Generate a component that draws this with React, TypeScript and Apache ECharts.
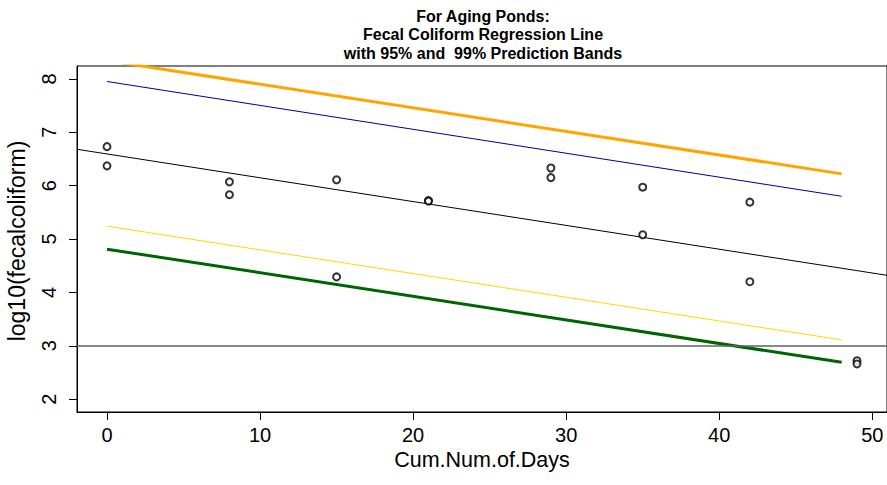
import React, { useEffect, useRef } from "react";
import * as echarts from "echarts";

// Observed data points
const days = [0, 0, 8, 8, 15, 15, 21, 21, 29, 29, 35, 35, 42, 42, 49, 49];
const logFecal = [6.73, 6.37, 6.07, 5.83, 6.11, 4.29, 5.72, 5.71, 6.33, 6.15, 5.97, 5.08, 5.69, 4.2, 2.72, 2.66];

// Regression line (abline across full plot), endpoints
const regX = [-1.96, 50.96];
const regY = [6.68, 4.32];

// Prediction bands, drawn from day 0 to day 48
const bandX = [0, 48];
const upper99 = [8.34, 6.22];
const upper95 = [7.95, 5.8];
const lower95 = [5.24, 3.11];
const lower99 = [4.81, 2.69];

// Reference horizontal line
const refY = 3;

// Axis ticks
const xTicks = [0, 10, 20, 30, 40, 50];
const yTicks = [2, 3, 4, 5, 6, 7, 8];

const FONT = "'Liberation Sans', Arial, Helvetica, sans-serif";

const pair = (xs: number[], ys: number[]) => xs.map((x, i) => [x, ys[i]]);

export default function App() {
  const ref = useRef<HTMLDivElement>(null);
  useEffect(() => {
    if (!ref.current) return;
    const chart = echarts.init(ref.current, undefined, { renderer: "svg" });
    const bandLine = (name: string, ys: number[], color: string, width: number) => ({
      name,
      type: "line",
      data: pair(bandX, ys),
      showSymbol: false,
      symbol: "none",
      clip: true,
      lineStyle: { color, width },
      z: 3,
    });
    chart.setOption({
      animation: false,
      backgroundColor: "#ffffff",
      textStyle: { fontFamily: FONT },
      title: {
        text: "For Aging Ponds:\nFecal Coliform Regression Line\nwith 95% and  99% Prediction Bands",
        left: 483,
        top: 7,
        padding: 0,
        textAlign: "center",
        textStyle: {
          fontFamily: FONT,
          fontSize: 16,
          fontWeight: "bold",
          lineHeight: 18.5,
          color: "#000",
        },
      },
      grid: {
        left: 77,
        top: 66,
        right: -2,
        bottom: 73,
        show: true,
        borderColor: "#000",
        borderWidth: 1,
        backgroundColor: "transparent",
      },
      xAxis: {
        type: "value",
        min: regX[0],
        max: regX[1],
        axisLine: { show: true, onZero: false, lineStyle: { color: "#000", width: 1 } },
        axisTick: { show: true, customValues: xTicks, length: 8, lineStyle: { color: "#000" } },
        axisLabel: {
          customValues: xTicks,
          fontSize: 20,
          color: "#000",
          margin: 13,
          fontFamily: FONT,
        },
        splitLine: { show: false },
      },
      yAxis: {
        type: "value",
        min: 1.76,
        max: 8.24,
        axisLine: { show: true, onZero: false, lineStyle: { color: "#000", width: 1 } },
        axisTick: { show: true, customValues: yTicks, length: 8, lineStyle: { color: "#000" } },
        axisLabel: {
          customValues: yTicks,
          fontSize: 20,
          color: "#000",
          rotate: 90,
          margin: 18,
          fontFamily: FONT,
        },
        splitLine: { show: false },
      },
      graphic: [
        {
          type: "text",
          x: 482,
          y: 460,
          style: {
            text: "Cum.Num.of.Days",
            fontSize: 21.5,
            fontFamily: FONT,
            fill: "#000",
            align: "center",
            verticalAlign: "middle",
          },
        },
        {
          type: "text",
          x: 17,
          y: 241,
          rotation: Math.PI / 2,
          style: {
            text: "log10(fecalcoliform)",
            fontSize: 23,
            fontFamily: FONT,
            fill: "#000",
            align: "center",
            verticalAlign: "middle",
          },
        },
      ],
      series: [
        {
          name: "points",
          type: "scatter",
          data: pair(days, logFecal),
          symbol: "emptyCircle",
          symbolSize: 7,
          itemStyle: { color: "#000", borderWidth: 0.9 },
          z: 5,
          markLine: {
            silent: true,
            symbol: "none",
            label: { show: false },
            lineStyle: { color: "#606060", width: 1.5, type: "solid" },
            data: [{ yAxis: refY }],
          },
        },
        {
          name: "regression",
          type: "line",
          data: pair(regX, regY),
          showSymbol: false,
          symbol: "none",
          lineStyle: { color: "#000", width: 1 },
          z: 3,
        },
        bandLine("upper99", upper99, "#FFA500", 3),
        bandLine("upper95", upper95, "#00008B", 1),
        bandLine("lower95", lower95, "#FFD700", 1),
        bandLine("lower99", lower99, "#006400", 3),
      ],
    });
    return () => chart.dispose();
  }, []);
  return (
    <div
      ref={ref}
      style={{ position: "fixed", left: 0, top: 0, width: 887, height: 485, background: "#fff" }}
    />
  );
}
